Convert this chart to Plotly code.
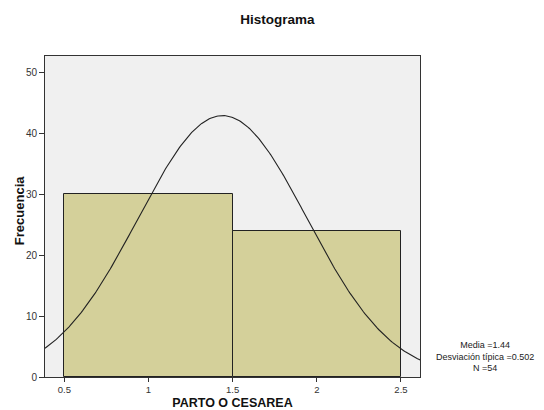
import numpy as np
import plotly.graph_objects as go

# bins of the histogram (lower/upper edge) and frequencies
bin_lo = [0.5, 1.5]
bin_hi = [1.5, 2.5]
freq = [30, 24]

# stats shown in the legend box
media = 1.44
desv = 0.502
n = 54

x_ticks = [0.5, 1, 1.5, 2, 2.5]
y_ticks = [0, 10, 20, 30, 40, 50]

centers = [(a + b) / 2 for a, b in zip(bin_lo, bin_hi)]
widths = [b - a for a, b in zip(bin_lo, bin_hi)]

# normal curve fitted from the stats (scaled to counts * bin width)
xr = [0.385, 2.613]
xs = np.linspace(xr[0], xr[1], 300)
ys = n * widths[0] / (desv * np.sqrt(2 * np.pi)) * np.exp(-0.5 * ((xs - media) / desv) ** 2)

fig = go.Figure()
fig.add_trace(go.Bar(x=centers, y=freq, width=widths,
                     marker=dict(color="#d4d09a", line=dict(color="#222222", width=1)),
                     hoverinfo="skip"))
fig.add_trace(go.Scatter(x=xs, y=ys, mode="lines",
                         line=dict(color="#222222", width=1.1), hoverinfo="skip"))

fig.update_xaxes(range=xr, tickvals=x_ticks, ticktext=[str(v) for v in x_ticks],
                 ticks="outside", ticklen=4, tickcolor="#333", showgrid=False, zeroline=False,
                 showline=True, linecolor="#333", linewidth=1, mirror=True, automargin=False,
                 tickfont=dict(size=9.5, color="#333"),
                 title=dict(text="<b>PARTO O CESAREA</b>", font=dict(size=12.5, color="#111"), standoff=6))
fig.update_yaxes(range=[0, 52.7], tickvals=y_ticks, ticks="outside", ticklen=5, tickcolor="#333",
                 showgrid=False, zeroline=False,
                 showline=True, linecolor="#333", linewidth=1, mirror=True, automargin=False,
                 tickfont=dict(size=10, color="#333"))

# y axis title placed by hand (closer to the ticks, like the original)
fig.add_annotation(text="<b>Frecuencia</b>", textangle=-90, xref="paper", yref="paper",
                   x=-0.069, y=0.517, xanchor="center", yanchor="middle", showarrow=False,
                   font=dict(size=13, color="#111"))

fig.add_annotation(text=f"Media ={media}<br>Desviación típica ={desv}<br>N ={n}",
                   xref="paper", yref="paper", x=1.173, y=0.065, xanchor="center", yanchor="middle",
                   showarrow=False, align="center", font=dict(size=9, color="#222"))

fig.update_layout(
    width=544, height=410,
    margin=dict(l=45, r=124, t=56, b=33),
    title=dict(text="<b>Histograma</b>", x=0.51, xanchor="center", y=0.952, yanchor="middle",
               font=dict(size=13.5, color="#111")),
    font=dict(family="Liberation Sans, Arial, sans-serif"),
    plot_bgcolor="#f0f0f0", paper_bgcolor="white",
    showlegend=False, bargap=0,
)

# page body has a default 8px margin; drop it so the figure sits at the corner
fig.write_html("out.html", config={"displayModeBar": False},
               post_script="document.body.style.margin='0';")
